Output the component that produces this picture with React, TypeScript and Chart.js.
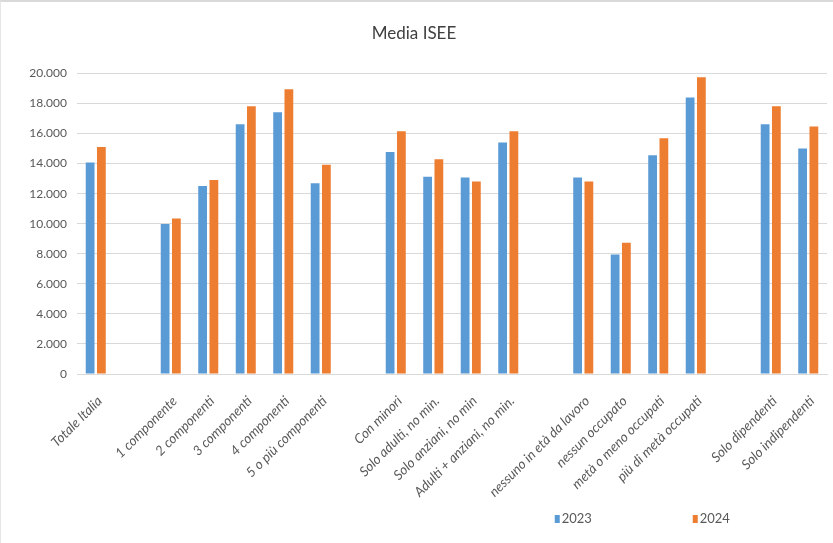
import React, { useEffect, useRef } from "react";
import { Chart, registerables } from "chart.js";

Chart.register(...registerables);

const categories: string[] = [
  "Totale Italia",
  "",
  "1 componente",
  "2 componenti",
  "3 componenti",
  "4 componenti",
  "5 o più componenti",
  "",
  "Con minori",
  "Solo adulti, no min.",
  "Solo anziani, no min",
  "Adulti + anziani, no min.",
  "",
  "nessuno in età da lavoro",
  "nessun occupato",
  "metà o meno occupati",
  "più di metà occupati",
  "",
  "Solo dipendenti",
  "Solo indipendenti",
];

const values2023: (number | null)[] = [
  14070, null, 9980, 12510, 16620, 17420, 12690, null, 14770, 13130, 13070, 15400, null, 13070, 7950, 14550, 18400, null, 16620, 15000,
];

const values2024: (number | null)[] = [
  15110, null, 10350, 12910, 17820, 18950, 13930, null, 16150, 14290, 12800, 16150, null, 12800, 8730, 15690, 19750, null, 17820, 16470,
];

const seriesNames = ["2023", "2024"];
const seriesColors = ["#5B9BD5", "#ED7D31"];
const titleText = "Media ISEE";
const yMin = 0;
const yMax = 20000;
const yStep = 2000;

const FONT = "Lato, 'Open Sans', sans-serif";
const TEXT_COLOR = "#595959";

function formatThousands(v: number): string {
  return Math.round(v)
    .toString()
    .replace(/\B(?=(\d{3})+(?!\d))/g, ".");
}

const legendPlugin = {
  id: "customLegend",
  afterDraw(chart: any) {
    const { ctx, chartArea } = chart;
    const w = chartArea.right - chartArea.left;
    const y = 517;
    const xs = [chartArea.left + w * 0.637, chartArea.left + w * 0.821];
    ctx.save();
    ctx.font = `13px ${FONT}`;
    ctx.textBaseline = "middle";
    ctx.textAlign = "left";
    seriesNames.forEach((name, i) => {
      ctx.fillStyle = seriesColors[i];
      ctx.fillRect(xs[i], y - 4, 5, 8);
      ctx.fillStyle = TEXT_COLOR;
      ctx.fillText(name, xs[i] + 7, y);
    });
    ctx.restore();
  },
};

export default function App() {
  const canvasRef = useRef<HTMLCanvasElement | null>(null);

  useEffect(() => {
    if (!canvasRef.current) return;
    const chart = new Chart(canvasRef.current, {
      type: "bar",
      data: {
        labels: categories,
        datasets: [
          {
            label: seriesNames[0],
            data: values2023,
            backgroundColor: seriesColors[0],
            categoryPercentage: 0.6,
            barPercentage: 0.78,
          },
          {
            label: seriesNames[1],
            data: values2024,
            backgroundColor: seriesColors[1],
            categoryPercentage: 0.6,
            barPercentage: 0.78,
          },
        ],
      },
      plugins: [legendPlugin],
      options: {
        animation: false,
        responsive: true,
        maintainAspectRatio: false,
        layout: { padding: { left: 0, right: 6, top: 0, bottom: 0 } },
        plugins: {
          legend: { display: false },
          tooltip: { enabled: false },
          title: {
            display: true,
            text: titleText,
            color: "#404040",
            font: { family: FONT, size: 17, weight: "normal" },
            padding: { top: 21, bottom: 30 },
          },
        },
        scales: {
          x: {
            grid: { display: false, drawTicks: false },
            border: { display: true, color: "#d9d9d9", width: 1 },
            ticks: {
              autoSkip: false,
              maxRotation: 45,
              minRotation: 45,
              padding: 19,
              labelOffset: 4,
              color: TEXT_COLOR,
              font: { family: FONT, size: 13.5, style: "italic" },
            },
            afterFit: (scale: any) => {
              scale.height = 169;
              scale.paddingLeft = 0;
              scale.paddingRight = 0;
            },
          },
          y: {
            min: yMin,
            max: yMax,
            grid: { color: "#d9d9d9", lineWidth: 1, drawTicks: false },
            border: { display: false },
            ticks: {
              stepSize: yStep,
              padding: 10,
              color: TEXT_COLOR,
              font: { family: FONT, size: 12 },
              callback: (v: any) => formatThousands(Number(v)),
            },
            afterFit: (scale: any) => {
              scale.width = 76;
            },
          },
        },
      },
    });
    return () => chart.destroy();
  }, []);

  return (
    <div
      style={{
        position: "fixed",
        left: 0,
        top: 0,
        width: 833,
        height: 543,
        boxSizing: "border-box",
        borderTop: "2px solid #d9d9d9",
        borderLeft: "1px solid #e6e6e6",
        background: "#fff",
      }}
    >
      <canvas ref={canvasRef} />
    </div>
  );
}
